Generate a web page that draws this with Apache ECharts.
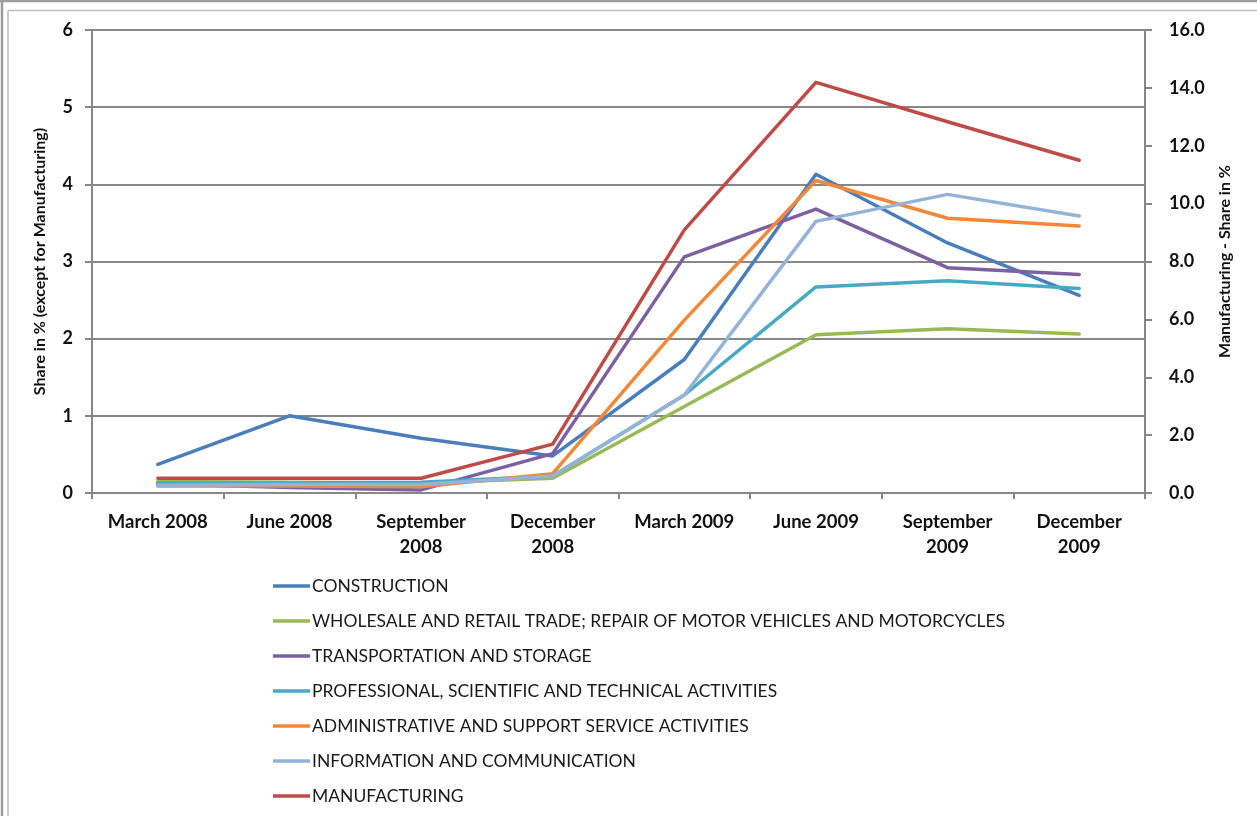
<!DOCTYPE html>
<html>
<head>
<meta charset="utf-8">
<script src="https://cdn.jsdelivr.net/npm/echarts@6/dist/echarts.min.js"></script>
<style>
  html, body { margin: 0; padding: 0; background: #ffffff; }
  #chart { width: 1257px; height: 816px; }
</style>
</head>
<body>
<div id="chart"></div>
<script>
// Quarterly categories
const categories = ['March 2008', 'June 2008', 'September 2008', 'December 2008',
                    'March 2009', 'June 2009', 'September 2009', 'December 2009'];

// Share in % per sector (left axis)
const construction   = [0.37, 1.00, 0.71, 0.48, 1.73, 4.13, 3.24, 2.56];
const wholesale      = [0.15, 0.14, 0.13, 0.19, 1.12, 2.05, 2.13, 2.06];
const transportation = [0.12, 0.07, 0.04, 0.51, 3.06, 3.68, 2.92, 2.83];
const professional   = [0.13, 0.13, 0.14, 0.22, 1.27, 2.67, 2.75, 2.65];
const administrative = [0.09, 0.09, 0.08, 0.25, 2.24, 4.05, 3.56, 3.46];
const information    = [0.10, 0.11, 0.11, 0.22, 1.27, 3.52, 3.87, 3.59];
// Manufacturing share in % (right axis)
const manufacturing  = [0.51, 0.51, 0.51, 1.69, 9.09, 14.19, 12.83, 11.50];

// Axis ticks
const leftTicks  = [0, 1, 2, 3, 4, 5, 6];
const rightTicks = [0, 2, 4, 6, 8, 10, 12, 14, 16];

const seriesDefs = [
  { name: 'CONSTRUCTION', data: construction, color: '#4A7EBB', axis: 0 },
  { name: 'WHOLESALE AND RETAIL TRADE; REPAIR OF MOTOR VEHICLES AND MOTORCYCLES', data: wholesale, color: '#98B954', axis: 0 },
  { name: 'TRANSPORTATION AND STORAGE', data: transportation, color: '#7D60A0', axis: 0 },
  { name: 'PROFESSIONAL, SCIENTIFIC AND TECHNICAL ACTIVITIES', data: professional, color: '#46AAC5', axis: 0 },
  { name: 'ADMINISTRATIVE AND SUPPORT SERVICE ACTIVITIES', data: administrative, color: '#F0883A', axis: 0 },
  { name: 'INFORMATION AND COMMUNICATION', data: information, color: '#94B3D6', axis: 0 },
  { name: 'MANUFACTURING', data: manufacturing, color: '#BE4B48', axis: 1 }
];

const FONT = 'Lato, "Open Sans", sans-serif';
const GRID_COLOR = '#878787';

const chart = echarts.init(document.getElementById('chart'), null, { renderer: 'canvas' });

const option = {
  backgroundColor: '#ffffff',
  animation: false,
  textStyle: { fontFamily: FONT },
  grid: { left: 92, right: 112, top: 30, bottom: 323, containLabel: false },
  legend: {
    orient: 'vertical',
    left: 268,
    top: 572,
    itemGap: 17,
    itemWidth: 37,
    itemHeight: 18,
    icon: 'path://M0,8 L33,8 L33,11 L0,11 Z',
    textStyle: { fontFamily: FONT, fontSize: 17.5, color: '#1a1a1a', padding: [0, 0, 0, -3] },
    data: seriesDefs.map(s => s.name)
  },
  xAxis: {
    type: 'category',
    data: categories,
    boundaryGap: true,
    axisLine: { lineStyle: { color: GRID_COLOR, width: 2 } },
    axisTick: { show: true, length: 6, lineStyle: { color: GRID_COLOR, width: 2 } },
    axisLabel: {
      interval: 0,
      margin: 17,
      fontFamily: FONT,
      fontSize: 18.5,
      fontWeight: 'bold',
      color: '#111',
      lineHeight: 25,
      formatter: v => (v.length > 10 ? v.replace(' ', '\n') : v)
    },
    splitLine: { show: false }
  },
  yAxis: [
    {
      type: 'value',
      position: 'left',
      min: leftTicks[0],
      max: leftTicks[leftTicks.length - 1],
      interval: 1,
      name: 'Share in % (except for Manufacturing)',
      nameLocation: 'middle',
      nameRotate: 90,
      nameGap: 44,
      nameTextStyle: { fontFamily: FONT, fontSize: 16, fontWeight: 'bold', color: '#111' },
      axisLine: { show: true, lineStyle: { color: GRID_COLOR, width: 2 } },
      axisTick: { show: true, length: 7, lineStyle: { color: GRID_COLOR, width: 2 } },
      axisLabel: { fontFamily: FONT, fontSize: 18, fontWeight: 'bold', color: '#111', margin: 19 },
      splitLine: { show: true, lineStyle: { color: GRID_COLOR, width: 2 } }
    },
    {
      type: 'value',
      position: 'right',
      min: rightTicks[0],
      max: rightTicks[rightTicks.length - 1],
      interval: 2,
      name: 'Manufacturing - Share in %',
      nameLocation: 'middle',
      nameRotate: 90,
      nameGap: 72,
      nameTextStyle: { fontFamily: FONT, fontSize: 16, fontWeight: 'bold', color: '#111' },
      axisLine: { show: true, lineStyle: { color: GRID_COLOR, width: 2 } },
      axisTick: { show: true, length: 7, lineStyle: { color: GRID_COLOR, width: 2 } },
      axisLabel: {
        fontFamily: FONT, fontSize: 18, fontWeight: 'bold', color: '#111', margin: 24,
        formatter: v => v.toFixed(1)
      },
      splitLine: { show: false }
    }
  ],
  series: seriesDefs.map(s => ({
    name: s.name,
    type: 'line',
    yAxisIndex: s.axis,
    data: s.data,
    showSymbol: false,
    symbol: 'none',
    color: s.color,
    lineStyle: { color: s.color, width: 3.5, cap: 'round', join: 'round' },
    z: 3
  })),
  graphic: [
    // outer frame
    { type: 'line', shape: { x1: 2, y1: 0, x2: 2, y2: 816 }, style: { stroke: '#9c9c9c', lineWidth: 2.5 }, silent: true },
    { type: 'line', shape: { x1: 0, y1: 1, x2: 1257, y2: 1 }, style: { stroke: '#9c9c9c', lineWidth: 2.5 }, silent: true },
    // inner frame
    { type: 'line', shape: { x1: 8, y1: 10.5, x2: 8, y2: 816 }, style: { stroke: '#bdbdbd', lineWidth: 1.5 }, silent: true },
    { type: 'line', shape: { x1: 8, y1: 10.5, x2: 1257, y2: 10.5 }, style: { stroke: '#bdbdbd', lineWidth: 1.5 }, silent: true }
  ]
};

chart.setOption(option);
</script>
</body>
</html>
